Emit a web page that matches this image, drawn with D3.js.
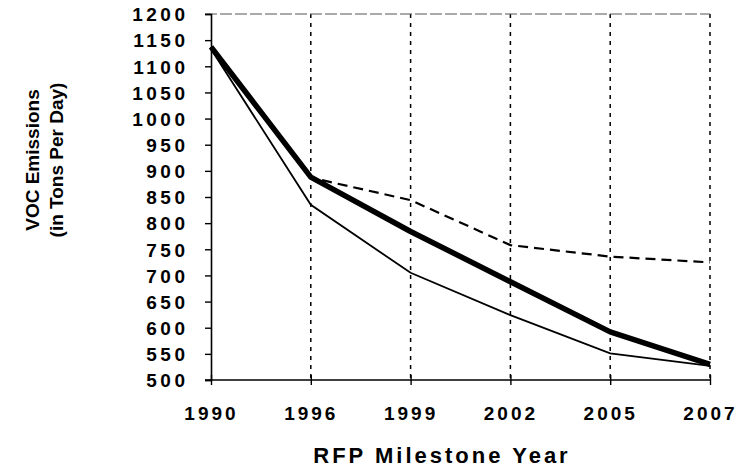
<!DOCTYPE html>
<html>
<head>
<meta charset="utf-8">
<script src="https://cdn.jsdelivr.net/npm/d3@7"></script>
<style>
  body { margin: 0; background: #fff; }
  text { font-family: "Liberation Sans", Arial, sans-serif; font-weight: bold; fill: #000; }
</style>
</head>
<body>
<div id="chart"></div>
<script>
// milestone years (equally spaced categories)
var years = ["1990", "1996", "1999", "2002", "2005", "2007"];
var yTicks = [500, 550, 600, 650, 700, 750, 800, 850, 900, 950, 1000, 1050, 1100, 1150, 1200];

// emission series (tons per day)
var thickSeries = [1137, 888, 784, 688, 592, 530];
var thinSeries = [1133, 835, 705, 624, 551, 527];
var dashedSeries = [1137, 887, 844, 758, 736, 725];

var width = 737, height = 473;
var margin = {top: 14, right: 27, bottom: 93, left: 211};

var svg = d3.select("#chart").append("svg")
    .attr("width", width)
    .attr("height", height);

var x = d3.scalePoint()
    .domain(years)
    .range([margin.left, width - margin.right]);

var y = d3.scaleLinear()
    .domain([500, 1200])
    .range([height - margin.bottom, margin.top]);

// dashed vertical gridlines
svg.append("g").selectAll("line")
    .data(years.slice(1))
    .enter().append("line")
    .attr("x1", function(d) { return x(d); })
    .attr("x2", function(d) { return x(d); })
    .attr("y1", y(1200))
    .attr("y2", y(500))
    .attr("stroke", "#000")
    .attr("stroke-width", 1.5)
    .attr("stroke-dasharray", "4,5");

// top frame line
svg.append("line")
    .attr("x1", x(years[0]) - 6)
    .attr("x2", x(years[years.length - 1]))
    .attr("y1", y(1200))
    .attr("y2", y(1200))
    .attr("stroke", "#555")
    .attr("stroke-width", 1)
    .attr("stroke-dasharray", "12,3");

// y axis
var yAxis = svg.append("g")
    .attr("transform", "translate(" + margin.left + ",0)")
    .call(d3.axisLeft(y).tickValues(yTicks).tickSize(6).tickPadding(16.5).tickFormat(d3.format("d")));
yAxis.select(".domain").attr("stroke-width", 1.6);
yAxis.selectAll(".tick line").attr("stroke-width", 1.4);
yAxis.selectAll("text")
    .style("font-size", "19px")
    .style("letter-spacing", "3.5px")
    .attr("dy", "0.36em");

// x axis
var xAxis = svg.append("g")
    .attr("transform", "translate(0," + y(500) + ")")
    .call(d3.axisBottom(x).tickSize(5).tickSizeOuter(0));
xAxis.select(".domain").attr("stroke-width", 1.6)
    .attr("d", "M" + (margin.left - 6) + ",0H" + (width - margin.right));
xAxis.selectAll(".tick line").attr("y1", -5).attr("stroke-width", 1.4);
xAxis.selectAll("text")
    .attr("y", 40)
    .attr("dy", 0)
    .style("font-size", "19px")
    .style("letter-spacing", "3px");

// series lines
var line = d3.line()
    .x(function(d, i) { return x(years[i]); })
    .y(function(d) { return y(d); });

svg.append("path")
    .datum(dashedSeries)
    .attr("d", line)
    .attr("fill", "none")
    .attr("stroke", "#000")
    .attr("stroke-width", 2.2)
    .attr("stroke-dasharray", "10,6");

svg.append("path")
    .datum(thinSeries)
    .attr("d", line)
    .attr("fill", "none")
    .attr("stroke", "#000")
    .attr("stroke-width", 1.8);

svg.append("path")
    .datum(thickSeries)
    .attr("d", line)
    .attr("fill", "none")
    .attr("stroke", "#000")
    .attr("stroke-width", 5.5)
    .attr("stroke-linejoin", "round");

// axis titles
svg.append("text")
    .attr("x", 442)
    .attr("y", 463)
    .attr("text-anchor", "middle")
    .style("font-size", "22px")
    .style("letter-spacing", "3px")
    .text("RFP Milestone Year");

var yTitle = svg.append("text")
    .attr("transform", "translate(39,160) rotate(-90)")
    .attr("text-anchor", "middle")
    .style("font-size", "19px");
yTitle.append("tspan").attr("x", 0).attr("y", 0).text("VOC Emissions");
yTitle.append("tspan").attr("x", 0).attr("y", 24).text("(in Tons Per Day)");
</script>
</body>
</html>
